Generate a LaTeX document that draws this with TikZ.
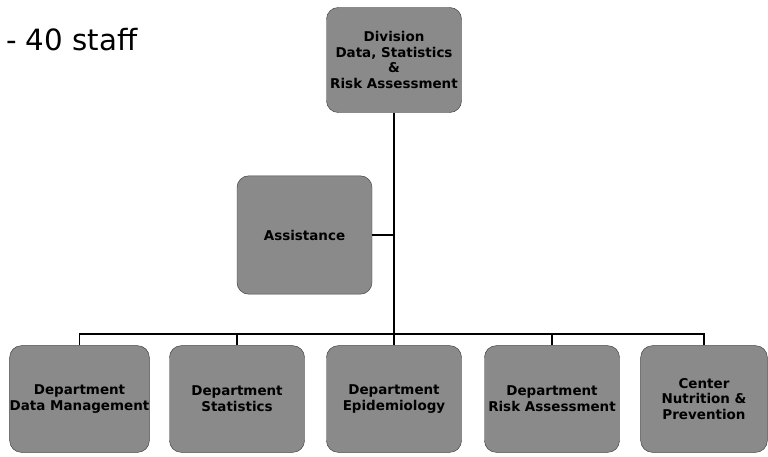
\documentclass[tikz,border=0pt]{standalone}
\usepackage{fontspec}
\setmainfont{DejaVu Sans}
\usetikzlibrary{positioning}

\begin{document}
\begin{tikzpicture}[
	x=0.03cm, y=-0.03cm,
	% Style for the grey organisation boxes
	unit/.style={
		rectangle,
		rounded corners=10pt,
		draw=black!75,
		thin,
		fill=black!46,
		align=center,
		font=\bfseries\fontsize{11.5}{13.5}\selectfont,
		inner sep=0pt,
		minimum width=4.05cm,
		minimum height=3.2cm
	},
	% Style for the connecting lines
	link/.style={
		line width=1.4pt,
		draw=black
	}
	]
	\useasboundingbox (0,0) rectangle (768,457);
	
	% Headline in the upper left corner
	\node[anchor=west, font=\fontsize{25}{30}\selectfont] (staff) at (2,40) {- 40 staff};
	
	% Division on top, assistance beside the trunk
	\node[unit, minimum height=3.15cm] (div) at (394,60) {Division\\ Data, Statistics\\ \&\\ Risk Assessment};
	\node[unit, minimum height=3.55cm] (asst) at (304.5,235) {Assistance};
	
	% Departments in the bottom row
	\node[unit] (dm) at (79.5,399) {Department\\ Data Management};
	\node[unit] (st) at (237,399) {Department\\ Statistics};
	\node[unit] (ep) at (394,399) {Department\\ Epidemiology};
	\node[unit] (ra) at (552,399) {Department\\ Risk Assessment};
	\node[unit, minimum width=3.8cm] (nu) at (704,399) {Center\\ Nutrition \&\\ Prevention};
	
	% Trunk and bus line
	\coordinate (bus) at (394,334);
	\draw[link] (div.south) -- (bus);
	\draw[link] (asst.east) -- (asst.east -| bus);
	\foreach \n in {dm, st, ep, ra, nu}{
		\draw[link] (\n.north) |- (bus);
	}
	
\end{tikzpicture}
\end{document}
